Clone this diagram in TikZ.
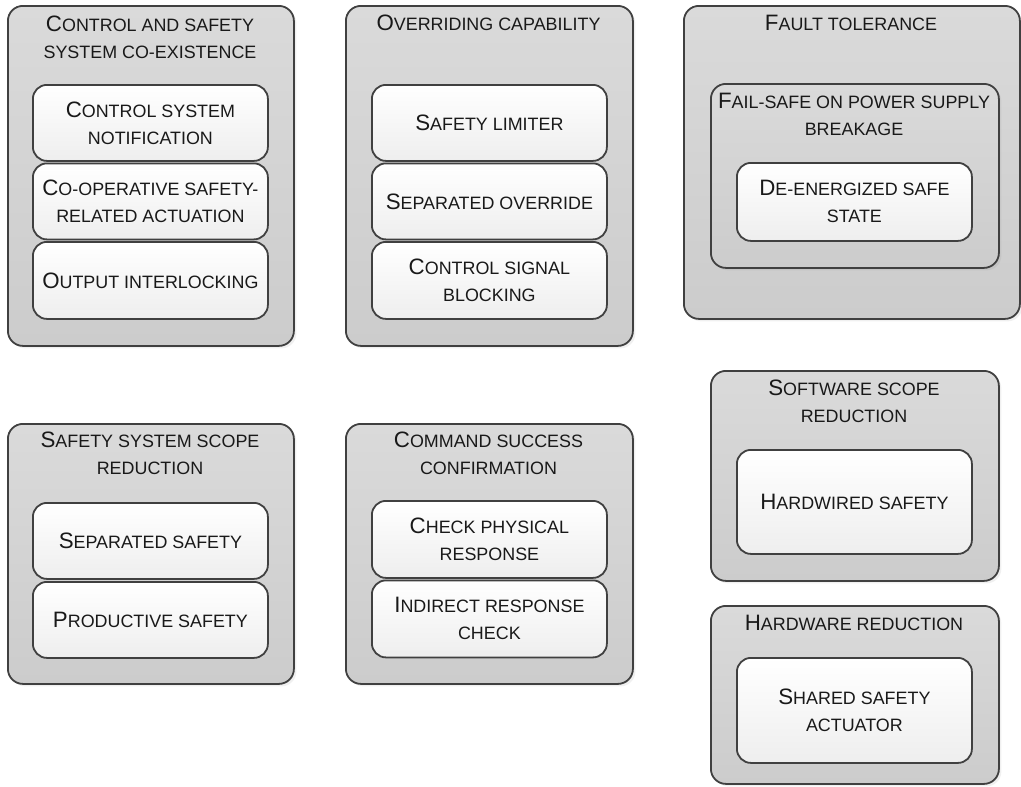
\documentclass[tikz,border=0pt]{standalone}
\usepackage{fontspec}
\setmainfont{Liberation Sans}
\usetikzlibrary{shadows}

\definecolor{edge}{RGB}{64,64,64}
\definecolor{panelTop}{RGB}{218,218,218}
\definecolor{panelBot}{RGB}{204,204,204}
\definecolor{cardBot}{RGB}{238,238,238}
\definecolor{ink}{RGB}{25,25,25}

% first letter at full size, the rest as small capitals
\newcommand\Bg[1]{{\fontsize{22.3pt}{27pt}\selectfont #1}}
\newcommand\Sm[1]{\MakeUppercase{#1}}

\tikzset{
  base/.style={draw=edge, line width=1.8pt, inner sep=0pt, align=center,
    text=ink, font=\fontsize{17.9pt}{27pt}\selectfont, anchor=north west},
  panel/.style={base, rounded corners=15pt, top color=panelTop, bottom color=panelBot,
    drop shadow={shadow xshift=2.5pt, shadow yshift=-2.5pt, opacity=0.12}},
  card/.style={base, rounded corners=14pt, top color=white, bottom color=cardBot},
  heading/.style={inner sep=0pt, align=center, text=ink,
    font=\fontsize{17.9pt}{27pt}\selectfont}
}

\begin{document}
\begin{tikzpicture}[x=1pt, y=-1pt]
\useasboundingbox (0,0) rectangle (1021,787);

% --- control and safety system co-existence ---
\node[panel, minimum width=286pt, minimum height=340pt] (coex) at (7,5) {};
\node[heading] (coexT) at (150,37) {\Bg{C}\Sm{ontrol and safety}\\\Sm{system co-existence}};
\node[card, minimum width=235pt, minimum height=76pt] (notif) at (32,84)
  {\Bg{C}\Sm{ontrol system}\\\Sm{notification}};
\node[card, minimum width=235pt, minimum height=76pt] (coop) at (32,162.5)
  {\Bg{C}\Sm{o-operative safety-}\\\Sm{related actuation}};
\node[card, minimum width=235pt, minimum height=77pt] (interlock) at (32,241)
  {\Bg{O}\Sm{utput interlocking}};

% --- overriding capability ---
\node[panel, minimum width=287pt, minimum height=340pt] (override) at (345,5) {};
\node[heading] (overrideT) at (488.5,23) {\Bg{O}\Sm{verriding capability}};
\node[card, minimum width=235pt, minimum height=76pt] (limiter) at (371,84)
  {\Bg{S}\Sm{afety limiter}};
\node[card, minimum width=235pt, minimum height=76pt] (sepover) at (371,162.5)
  {\Bg{S}\Sm{eparated override}};
\node[card, minimum width=235pt, minimum height=77pt] (blocking) at (371,241)
  {\Bg{C}\Sm{ontrol signal}\\\Sm{blocking}};

% --- fault tolerance ---
\node[panel, minimum width=336pt, minimum height=313pt] (fault) at (683,5) {};
\node[heading] (faultT) at (851,23) {\Bg{F}\Sm{ault tolerance}};
\node[panel, minimum width=288pt, minimum height=184pt] (failsafe) at (710,83) {};
\node[heading] (failsafeT) at (854,114) {\Bg{F}\Sm{ail-safe on power supply}\\\Sm{breakage}};
\node[card, minimum width=235pt, minimum height=78pt] (deenergized) at (736,162)
  {\Bg{D}\Sm{e-energized safe}\\\Sm{state}};

% --- safety system scope reduction ---
\node[panel, minimum width=286pt, minimum height=260pt] (scope) at (7,423) {};
\node[heading] (scopeT) at (150,453) {\Bg{S}\Sm{afety system scope}\\\Sm{reduction}};
\node[card, minimum width=235pt, minimum height=76pt] (separated) at (32,502)
  {\Bg{S}\Sm{eparated safety}};
\node[card, minimum width=235pt, minimum height=76pt] (productive) at (32,581)
  {\Bg{P}\Sm{roductive safety}};

% --- command success confirmation ---
\node[panel, minimum width=287pt, minimum height=260pt] (confirm) at (345,423) {};
\node[heading] (confirmT) at (488.5,453) {\Bg{C}\Sm{ommand success}\\\Sm{confirmation}};
\node[card, minimum width=235pt, minimum height=77pt] (physical) at (371,500)
  {\Bg{C}\Sm{heck physical}\\\Sm{response}};
\node[card, minimum width=235pt, minimum height=77pt] (indirect) at (371,579.5)
  {\Bg{I}\Sm{ndirect response}\\\Sm{check}};

% --- software scope reduction ---
\node[panel, minimum width=288pt, minimum height=210pt] (software) at (710,370) {};
\node[heading] (softwareT) at (854,401) {\Bg{S}\Sm{oftware scope}\\\Sm{reduction}};
\node[card, minimum width=235pt, minimum height=104pt] (hardwired) at (736,449)
  {\Bg{H}\Sm{ardwired safety}};

% --- hardware reduction ---
\node[panel, minimum width=288pt, minimum height=178pt] (hardware) at (710,605) {};
\node[heading] (hardwareT) at (854,623) {\Bg{H}\Sm{ardware reduction}};
\node[card, minimum width=235pt, minimum height=105pt] (shared) at (736,657)
  {\Bg{S}\Sm{hared safety}\\\Sm{actuator}};
\end{tikzpicture}
\end{document}
